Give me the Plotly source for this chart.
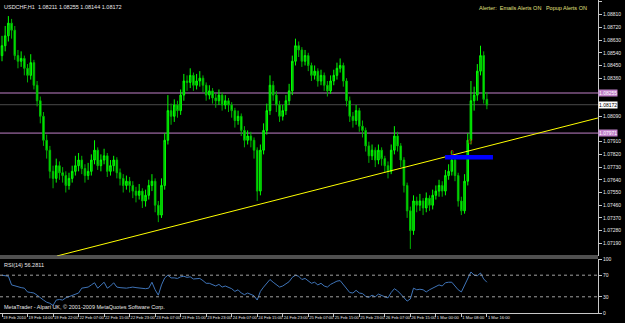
import plotly.graph_objects as go

# ---------------- data ----------------
symbol_title = "USDCHF,H1  1.08211 1.08255 1.08144 1.08172"
alert_text = "Alerter:  Emails Alerts ON   Popup Alerts ON"
rsi_title = "RSI(14) 56.2811"
copyright_text = "MetaTrader - Alpari UK, \u00a9 2001-2009 MetaQuotes Software Corp."

first_open = 1.0852
closes = [1.0859,1.0866,1.0875,1.0870,1.0852,1.0848,1.0850,1.0843,1.0838,1.0847,
          1.0831,1.0820,1.0809,1.0792,1.0785,1.0770,1.0765,1.0774,1.0769,1.0767,
          1.0760,1.0765,1.0770,1.0774,1.0778,1.0772,1.0767,1.0770,1.0778,1.0785,
          1.0774,1.0778,1.0781,1.0770,1.0774,1.0778,1.0769,1.0765,1.0760,1.0763,
          1.0760,1.0756,1.0753,1.0756,1.0749,1.0753,1.0760,1.0763,1.0746,1.0739,
          1.0760,1.0792,1.0813,1.0809,1.0817,1.0813,1.0824,1.0834,1.0833,1.0838,
          1.0831,1.0834,1.0836,1.0831,1.0824,1.0827,1.0822,1.0820,1.0824,1.0817,
          1.0820,1.0817,1.0813,1.0806,1.0809,1.0799,1.0792,1.0795,1.0792,1.0785,
          1.0756,1.0785,1.0799,1.0813,1.0831,1.0824,1.0817,1.0809,1.0813,1.0820,
          1.0827,1.0848,1.0859,1.0856,1.0848,1.0852,1.0845,1.0838,1.0841,1.0834,
          1.0838,1.0831,1.0827,1.0834,1.0838,1.0843,1.0845,1.0834,1.0820,1.0809,
          1.0806,1.0813,1.0802,1.0799,1.0788,1.0781,1.0785,1.0778,1.0785,1.0779,
          1.0774,1.0770,1.0785,1.0795,1.0788,1.0778,1.0760,1.0742,1.0728,1.0749,
          1.0746,1.0749,1.0744,1.0751,1.0746,1.0753,1.0756,1.0760,1.0756,1.0767,
          1.0770,1.0778,1.0767,1.0749,1.0742,1.0763,1.0792,1.0820,1.0824,1.0841,
          1.0852,1.0821,1.0817]
highs = [1.0866,1.0873,1.0880,1.0878,1.0873,1.0856,1.0855,1.0852,1.0846,1.0853,
         1.0849,1.0834,1.0823,1.0812,1.0796,1.0788,1.0774,1.0779,1.0777,1.0773,
         1.0770,1.0769,1.0774,1.0781,1.0783,1.0781,1.0775,1.0776,1.0782,1.0792,
         1.0787,1.0782,1.0786,1.0783,1.0778,1.0781,1.0780,1.0772,1.0768,1.0767,
         1.0766,1.0763,1.0759,1.0761,1.0758,1.0757,1.0764,1.0768,1.0765,1.0749,
         1.0765,1.0797,1.0824,1.0818,1.0821,1.0820,1.0828,1.0839,1.0838,1.0843,
         1.0840,1.0839,1.0841,1.0838,1.0833,1.0831,1.0829,1.0825,1.0828,1.0826,
         1.0824,1.0822,1.0819,1.0815,1.0813,1.0811,1.0802,1.0799,1.0798,1.0794,
         1.0787,1.0789,1.0804,1.0818,1.0838,1.0834,1.0827,1.0820,1.0817,1.0824,
         1.0832,1.0852,1.0864,1.0862,1.0858,1.0856,1.0854,1.0847,1.0845,1.0843,
         1.0842,1.0840,1.0834,1.0838,1.0842,1.0847,1.0850,1.0847,1.0836,1.0823,
         1.0812,1.0817,1.0815,1.0806,1.0801,1.0791,1.0789,1.0787,1.0789,1.0787,
         1.0781,1.0777,1.0789,1.0802,1.0798,1.0790,1.0780,1.0762,1.0745,1.0753,
         1.0752,1.0754,1.0751,1.0755,1.0753,1.0757,1.0760,1.0764,1.0763,1.0771,
         1.0775,1.0785,1.0780,1.0769,1.0752,1.0768,1.0797,1.0834,1.0830,1.0846,
         1.0859,1.0855,1.0826]
lows = [1.0848,1.0855,1.0862,1.0864,1.0849,1.0843,1.0844,1.0838,1.0833,1.0835,
        1.0828,1.0816,1.0804,1.0788,1.0779,1.0765,1.0758,1.0762,1.0764,1.0762,
        1.0755,1.0757,1.0762,1.0767,1.0770,1.0768,1.0762,1.0764,1.0767,1.0775,
        1.0771,1.0770,1.0775,1.0766,1.0767,1.0770,1.0765,1.0760,1.0755,1.0757,
        1.0755,1.0751,1.0748,1.0750,1.0744,1.0745,1.0750,1.0756,1.0741,1.0734,
        1.0737,1.0757,1.0789,1.0803,1.0805,1.0808,1.0810,1.0820,1.0827,1.0829,
        1.0827,1.0828,1.0830,1.0826,1.0820,1.0821,1.0818,1.0815,1.0817,1.0813,
        1.0814,1.0812,1.0808,1.0801,1.0803,1.0795,1.0787,1.0789,1.0787,1.0779,
        1.0749,1.0753,1.0782,1.0796,1.0810,1.0820,1.0812,1.0805,1.0806,1.0810,
        1.0817,1.0824,1.0845,1.0851,1.0844,1.0845,1.0841,1.0834,1.0835,1.0830,
        1.0831,1.0827,1.0823,1.0825,1.0831,1.0835,1.0840,1.0830,1.0816,1.0805,
        1.0801,1.0803,1.0798,1.0794,1.0784,1.0776,1.0778,1.0773,1.0775,1.0774,
        1.0769,1.0765,1.0768,1.0782,1.0784,1.0773,1.0755,1.0737,1.0715,1.0725,
        1.0741,1.0742,1.0739,1.0741,1.0742,1.0743,1.0750,1.0752,1.0752,1.0753,
        1.0764,1.0767,1.0763,1.0745,1.0739,1.0740,1.0760,1.0789,1.0813,1.0820,
        1.0838,1.0818,1.0814]
rsi = [70,69,68,52,50,48,47,46,39,38,37,33,28,24,20,18,14,24,25,24,
       28,30,33,35,37,46,47,48,52,56,46,52,57,46,50,56,48,47,46,46,
       47,48,47,46,46,45,46,57,43,33,52,65,70,65,65,64,67,68,66,67,
       63,64,64,60,55,55,52,50,53,48,50,47,45,40,43,37,34,37,35,32,
       24,40,48,55,62,57,52,48,50,54,58,66,70,68,62,64,59,55,57,52,
       55,50,48,53,56,59,60,52,44,38,37,42,37,36,31,29,33,30,35,32,
       30,28,38,45,41,35,28,22,26,46,43,44,43,39,43,46,48,52,50,56,
       57,57,50,43,39,52,65,76,70,69,74,63,57]

time_labels = ["19 Feb 2010", "19 Feb 14:00", "19 Feb 22:00", "22 Feb 07:00", "22 Feb 15:00",
               "22 Feb 23:00", "23 Feb 07:00", "23 Feb 15:00", "23 Feb 23:00", "24 Feb 07:00",
               "24 Feb 15:00", "24 Feb 23:00", "25 Feb 07:00", "25 Feb 15:00", "25 Feb 23:00",
               "26 Feb 07:00", "26 Feb 15:00", "1 Mar 00:00", "1 Mar 08:00", "1 Mar 16:00"]
time_label_bars = [0, 8, 16, 24, 32, 40, 48, 56, 64, 72, 80, 88, 96, 104, 112, 120, 128, 136, 144, 152]

price_ticks = [1.08900, 1.08810, 1.08720, 1.08630, 1.08540, 1.08450, 1.08360, 1.08270,
               1.08180, 1.08090, 1.08000, 1.07910, 1.07820, 1.07730, 1.07640, 1.07550,
               1.07460, 1.07370, 1.07280, 1.07190]
rsi_ticks = [0, 30, 70, 100]

pink_levels = [1.08255, 1.07971]
bid_price = 1.08172
trend_points = [(17.2, 1.07100), (186.8, 1.08078)]
blue_zone = (138.9, 153.9, 1.07783, 1.07815)
marker_bars = [141.0, 146.7]
marker_prices = [1.07830, 1.07908]
rsi_levels = [30, 70]

# ---------------- figure ----------------
bars = list(range(len(closes)))
opens = [first_open] + closes[:-1]

W, H = 625, 323
ML, MR, MT, MB = 0, 27, 0, 10
PH = H - MT - MB
main_bottom_px = 256
rsi_top_px = 259
x_range = [-0.63, 186.83]
y_range = [1.07100, 1.08914]

# hide tick labels that sit under the price labels (as the terminal does)
px_per_price = main_bottom_px / (y_range[1] - y_range[0])
covered = pink_levels + [bid_price]
shown_ticks = [t for t in price_ticks if all(abs(t - c) * px_per_price > 7 for c in covered)]

font_fam = "Liberation Sans, Arial"
txt = "#E8E8E8"
axc = "#C8C8C8"

fig = go.Figure()
fig.add_trace(go.Candlestick(
    x=bars, open=opens, high=highs, low=lows, close=closes,
    xaxis="x", yaxis="y", whiskerwidth=0,
    increasing=dict(line=dict(color="#00FF00", width=1), fillcolor="#00A800"),
    decreasing=dict(line=dict(color="#00B400", width=1), fillcolor="#00FF00"),
    showlegend=False, hoverinfo="skip"))

fig.add_trace(go.Scatter(
    x=[p[0] for p in trend_points], y=[p[1] for p in trend_points],
    xaxis="x", yaxis="y", mode="lines", line=dict(color="#FFFF00", width=1),
    showlegend=False, hoverinfo="skip"))

fig.add_trace(go.Scatter(
    x=marker_bars, y=marker_prices, xaxis="x", yaxis="y", mode="text",
    text=["0"] * len(marker_bars), textfont=dict(color="#B00000", size=7, family=font_fam),
    showlegend=False, hoverinfo="skip"))

fig.add_trace(go.Scatter(
    x=bars, y=rsi, xaxis="x2", yaxis="y2", mode="lines",
    line=dict(color="#3F74B8", width=1), showlegend=False, hoverinfo="skip"))

shapes = []
for lv in pink_levels:
    shapes.append(dict(type="line", xref="x domain", yref="y", x0=0, x1=1, y0=lv, y1=lv,
                       line=dict(color="#C080C8", width=1), layer="below"))
shapes.append(dict(type="line", xref="x domain", yref="y", x0=0, x1=1, y0=bid_price, y1=bid_price,
                   line=dict(color="#4A4A4A", width=1), layer="below"))
shapes.append(dict(type="rect", xref="x", yref="y", x0=blue_zone[0], x1=blue_zone[1],
                   y0=blue_zone[2], y1=blue_zone[3], line=dict(width=0), fillcolor="#0000FF"))
for lv in rsi_levels:
    shapes.append(dict(type="line", xref="x2 domain", yref="y2", x0=0, x1=1, y0=lv, y1=lv,
                       line=dict(color="#A0A0A0", width=1, dash="dot")))
# panel separators
for py in (main_bottom_px, main_bottom_px + 2):
    yp = 1 - (py - MT) / PH
    shapes.append(dict(type="line", xref="paper", yref="paper", x0=0, x1=1, y0=yp, y1=yp,
                       line=dict(color="#A0A0A0", width=1)))

annotations = [
    dict(text=symbol_title, xref="paper", yref="paper", x=0.004, y=1 - 2 / PH,
         xanchor="left", yanchor="top", showarrow=False, font=dict(color=txt, size=5.5, family=font_fam)),
    dict(text=alert_text, xref="paper", yref="paper", x=0.985, y=1 - 3 / PH,
         xanchor="right", yanchor="top", showarrow=False, font=dict(color="#E0E080", size=5.5, family=font_fam)),
    dict(text=rsi_title, xref="paper", yref="paper", x=0.004, y=1 - (rsi_top_px + 1) / PH,
         xanchor="left", yanchor="top", showarrow=False, font=dict(color=txt, size=5.5, family=font_fam)),
    dict(text=copyright_text, xref="paper", yref="paper", x=0.004, y=1 - 302 / PH,
         xanchor="left", yanchor="top", showarrow=False, font=dict(color=txt, size=5.5, family=font_fam)),
]
for lv in pink_levels:
    annotations.append(dict(text=f"{lv:.5f}", xref="paper", yref="y", x=1.0, y=lv, xanchor="left",
                            yanchor="middle", showarrow=False, bgcolor="#C080C8", borderpad=0,
                            font=dict(color="#FFFFFF", size=5, family=font_fam)))
annotations.append(dict(text=f"{bid_price:.5f}", xref="paper", yref="y", x=1.0, y=bid_price, xanchor="left",
                        yanchor="middle", showarrow=False, bgcolor="#FFFFFF", borderpad=0,
                        font=dict(color="#000000", size=5, family=font_fam)))

fig.update_layout(
    width=W, height=H, margin=dict(l=ML, r=MR, t=MT, b=MB, autoexpand=False),
    paper_bgcolor="#000000", plot_bgcolor="#000000",
    showlegend=False, shapes=shapes, annotations=annotations,
    xaxis=dict(domain=[0, 1], range=x_range, anchor="y", showticklabels=False, showgrid=False,
               zeroline=False, rangeslider=dict(visible=False), showline=False, fixedrange=True),
    xaxis2=dict(domain=[0, 1], range=x_range, anchor="y2", matches="x", showgrid=False, zeroline=False,
                tickmode="array", tickvals=time_label_bars, ticktext=time_labels, tickangle=0,
                automargin=False,
                ticks="outside", ticklen=3, tickcolor=axc, ticklabelposition="outside right",
                tickfont=dict(color=txt, size=4.1, family=font_fam),
                showline=True, linecolor=axc, linewidth=1),
    yaxis=dict(domain=[1 - (main_bottom_px - MT) / PH, 1], range=y_range, side="right", anchor="x",
               tickmode="array", tickvals=shown_ticks, tickformat=".5f", showgrid=False, zeroline=False,
               ticks="outside", ticklen=3, tickcolor=axc, automargin=False,
               tickfont=dict(color=txt, size=5, family=font_fam),
               showline=True, linecolor=axc, linewidth=1),
    yaxis2=dict(domain=[0, (H - MB - rsi_top_px) / PH], range=[0, 100], side="right", anchor="x2",
                tickmode="array", tickvals=rsi_ticks, showgrid=False, zeroline=False,
                ticks="outside", ticklen=3, tickcolor=axc, automargin=False,
                tickfont=dict(color=txt, size=5, family=font_fam),
                showline=True, linecolor=axc, linewidth=1),
)

fig.write_html("out.html")
